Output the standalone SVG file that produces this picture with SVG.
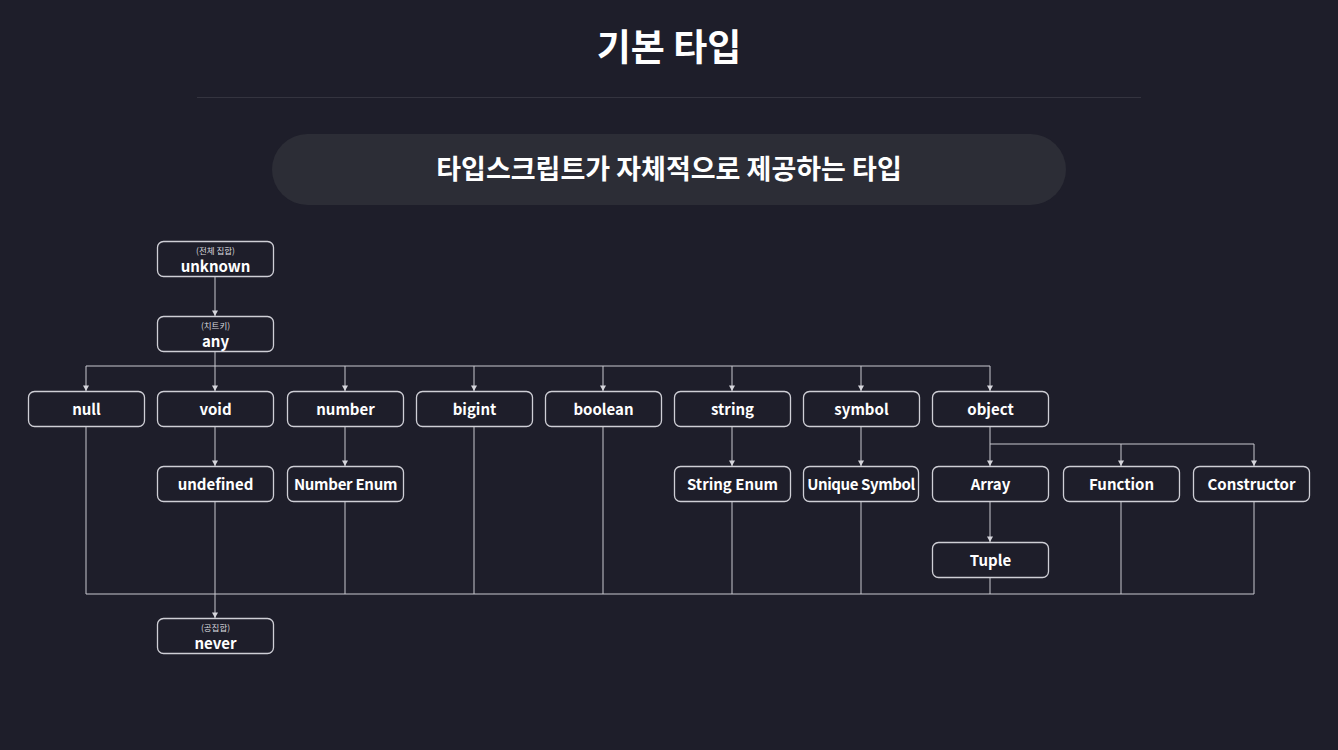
<svg xmlns="http://www.w3.org/2000/svg" width="1338" height="750" viewBox="0 0 1338 750">
<defs>
<marker id="ah" markerWidth="8" markerHeight="8" refX="6" refY="4" orient="auto" markerUnits="userSpaceOnUse" viewBox="0 0 8 8">
<path d="M0.5,1 L6,4 L0.5,7 Z" fill="#d6d6dc"/>
</marker>
<style>
text{font-family:"Noto Sans CJK KR","Noto Sans",sans-serif;fill:#ffffff;text-anchor:middle;font-weight:700}
.box{fill:#1e1e2a;stroke:#cfcfd6;stroke-width:1.3}
.lbl{font-size:15px}
.sm{font-size:8.5px;font-weight:400;fill:#d8d8de}
.ln{fill:none;stroke:#c8c8cf;stroke-width:1}
.arr{fill:none;stroke:#c8c8cf;stroke-width:1;marker-end:url(#ah)}
</style>
</defs>
<rect width="1338" height="750" fill="#1e1e2a"/>
<text x="669" y="61" style="font-size:37px">기본 타입</text>
<line x1="197" y1="97.5" x2="1141" y2="97.5" stroke="#34343f" stroke-width="1.2"/>
<rect x="272" y="134" width="794" height="71" rx="35.5" fill="#2c2d36"/>
<text x="669" y="178.5" style="font-size:27px">타입스크립트가 자체적으로 제공하는 타입</text>

<g id="connectors">
<line class="arr" x1="215" y1="277" x2="215" y2="316"/>
<polyline class="ln" points="215,352 215,366"/>
<line class="ln" x1="86" y1="366" x2="990" y2="366"/>
<line class="arr" x1="86" y1="366" x2="86" y2="391"/>
<line class="arr" x1="215" y1="366" x2="215" y2="391"/>
<line class="arr" x1="345" y1="366" x2="345" y2="391"/>
<line class="arr" x1="474" y1="366" x2="474" y2="391"/>
<line class="arr" x1="603" y1="366" x2="603" y2="391"/>
<line class="arr" x1="732" y1="366" x2="732" y2="391"/>
<line class="arr" x1="861" y1="366" x2="861" y2="391"/>
<line class="arr" x1="990" y1="366" x2="990" y2="391"/>
<line class="arr" x1="215" y1="427" x2="215" y2="466"/>
<line class="arr" x1="345" y1="427" x2="345" y2="466"/>
<line class="arr" x1="732" y1="427" x2="732" y2="466"/>
<line class="arr" x1="861" y1="427" x2="861" y2="466"/>
<line class="ln" x1="990" y1="427" x2="990" y2="444"/>
<line class="ln" x1="990" y1="444" x2="1254" y2="444"/>
<line class="arr" x1="990" y1="444" x2="990" y2="466"/>
<line class="arr" x1="1121" y1="444" x2="1121" y2="466"/>
<line class="arr" x1="1254" y1="444" x2="1254" y2="466"/>
<line class="arr" x1="990" y1="502" x2="990" y2="542"/>
<line class="ln" x1="86" y1="427" x2="86" y2="594"/>
<line class="ln" x1="474" y1="427" x2="474" y2="594"/>
<line class="ln" x1="603" y1="427" x2="603" y2="594"/>
<line class="ln" x1="345" y1="502" x2="345" y2="594"/>
<line class="ln" x1="732" y1="502" x2="732" y2="594"/>
<line class="ln" x1="861" y1="502" x2="861" y2="594"/>
<line class="ln" x1="1121" y1="502" x2="1121" y2="594"/>
<line class="ln" x1="1254" y1="502" x2="1254" y2="594"/>
<line class="ln" x1="990" y1="578" x2="990" y2="594"/>
<line class="ln" x1="86" y1="594" x2="1254" y2="594"/>
<line class="arr" x1="215" y1="502" x2="215" y2="618"/>
</g>

<g id="unknown"><rect class="box" x="157.5" y="241.5" width="116" height="35" rx="6"/><text class="sm" x="215.5" y="254">(전체 집합)</text><text class="lbl" x="215.5" y="271.5">unknown</text></g>
<g id="any"><rect class="box" x="157.5" y="316.5" width="116" height="35" rx="6"/><text class="sm" x="215.5" y="329">(치트키)</text><text class="lbl" x="215.5" y="346.5">any</text></g>

<g id="null"><rect class="box" x="28.5" y="391.5" width="116" height="35" rx="6"/><text class="lbl" x="86.5" y="415">null</text></g>
<g id="void"><rect class="box" x="157.5" y="391.5" width="116" height="35" rx="6"/><text class="lbl" x="215.5" y="415">void</text></g>
<g id="number"><rect class="box" x="287.5" y="391.5" width="116" height="35" rx="6"/><text class="lbl" x="345.5" y="415">number</text></g>
<g id="bigint"><rect class="box" x="416.5" y="391.5" width="116" height="35" rx="6"/><text class="lbl" x="474.5" y="415">bigint</text></g>
<g id="boolean"><rect class="box" x="545.5" y="391.5" width="116" height="35" rx="6"/><text class="lbl" x="603.5" y="415">boolean</text></g>
<g id="string"><rect class="box" x="674.5" y="391.5" width="116" height="35" rx="6"/><text class="lbl" x="732.5" y="415">string</text></g>
<g id="symbol"><rect class="box" x="803.5" y="391.5" width="116" height="35" rx="6"/><text class="lbl" x="861.5" y="415">symbol</text></g>
<g id="object"><rect class="box" x="932.5" y="391.5" width="116" height="35" rx="6"/><text class="lbl" x="990.5" y="415">object</text></g>

<g id="undefined"><rect class="box" x="157.5" y="466.5" width="116" height="35" rx="6"/><text class="lbl" x="215.5" y="490">undefined</text></g>
<g id="number-enum"><rect class="box" x="287.5" y="466.5" width="116" height="35" rx="6"/><text class="lbl" x="345.5" y="490" style="letter-spacing:-0.3px">Number Enum</text></g>
<g id="string-enum"><rect class="box" x="674.5" y="466.5" width="116" height="35" rx="6"/><text class="lbl" x="732.5" y="490">String Enum</text></g>
<g id="unique-symbol"><rect class="box" x="803.5" y="466.5" width="115" height="35" rx="6"/><text class="lbl" x="861" y="490" style="letter-spacing:-0.4px">Unique Symbol</text></g>
<g id="array"><rect class="box" x="932.5" y="466.5" width="116" height="35" rx="6"/><text class="lbl" x="990.5" y="490">Array</text></g>
<g id="function"><rect class="box" x="1063.5" y="466.5" width="116" height="35" rx="6"/><text class="lbl" x="1121.5" y="490">Function</text></g>
<g id="constructor"><rect class="box" x="1193.5" y="466.5" width="116" height="35" rx="6"/><text class="lbl" x="1251.5" y="490">Constructor</text></g>
<g id="tuple"><rect class="box" x="932.5" y="542.5" width="116" height="35" rx="6"/><text class="lbl" x="990.5" y="566">Tuple</text></g>
<g id="never"><rect class="box" x="157.5" y="618.5" width="116" height="35" rx="6"/><text class="sm" x="215.5" y="631">(공집합)</text><text class="lbl" x="215.5" y="648.5">never</text></g>
</svg>
